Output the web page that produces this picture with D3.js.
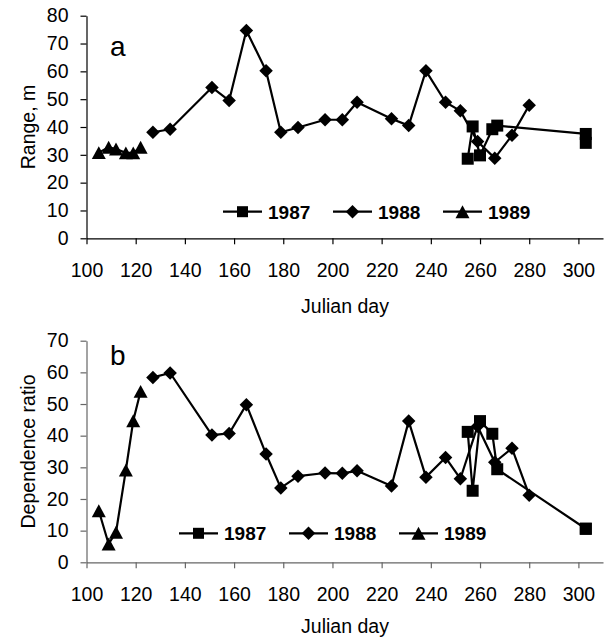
<!DOCTYPE html>
<html>
<head>
<meta charset="utf-8">
<script src="https://cdn.jsdelivr.net/npm/d3@7"></script>
<style>
  html, body { margin: 0; padding: 0; background: #fff; }
  svg { display: block; }
  text { font-family: "Liberation Sans", Arial, sans-serif; fill: #000; }
</style>
</head>
<body>
<script>
// ---------------- DATA ----------------
const xTicks = [100, 120, 140, 160, 180, 200, 220, 240, 260, 280, 300];
const yTicksA = [0, 10, 20, 30, 40, 50, 60, 70, 80];
const yTicksB = [0, 10, 20, 30, 40, 50, 60, 70];
const seriesNames = ["1987", "1988", "1989"];

const days1987 = [255, 257, 260, 265, 267, 303, 303];
const range1987 = [28.6, 40.2, 29.8, 39.2, 40.5, 37.5, 34.3];
const ratio1987 = [41.2, 22.6, 44.6, 40.6, 29.4, 10.6, 10.6];

const days1988 = [127, 134, 151, 158, 165, 173, 179, 186, 197, 204, 210, 224, 231, 238, 246, 252, 259, 266, 273, 280];
const range1988 = [38.1, 39.2, 54.2, 49.5, 74.7, 60.2, 38.1, 39.8, 42.6, 42.6, 48.9, 43.0, 40.5, 60.2, 48.9, 45.8, 34.8, 28.8, 37.0, 47.8];
const ratio1988 = [58.4, 59.8, 40.2, 40.7, 49.8, 34.2, 23.5, 27.2, 28.2, 28.1, 28.9, 24.1, 44.6, 26.9, 33.1, 26.4, 43.0, 31.6, 36.0, 21.2];

const days1989 = [105, 109, 112, 116, 119, 122];
const range1989 = [30.8, 32.7, 32.1, 30.7, 30.7, 32.7];
const ratio1989 = [16.3, 5.8, 9.5, 29.1, 44.7, 54.0];

// ---------------- DRAW ----------------
const W = 607, H = 639;
const svg = d3.select("body").append("svg").attr("width", W).attr("height", H);

const markerPath = {
  square: s => `M${-s/2},${-s/2}h${s}v${s}h${-s}Z`,
  diamond: s => `M0,${-s/2}L${s/2},0L0,${s/2}L${-s/2},0Z`,
  triangle: s => `M0,${-s*0.46}L${s/2},${s*0.46}L${-s/2},${s*0.46}Z`
};
const markerSize = { square: 12, diamond: 13.5, triangle: 14 };
const markerOf = ["square", "diamond", "triangle"];

function panel(cfg) {
  const x = d3.scaleLinear().domain([100, 310]).range([86.5, 603]);
  const y = d3.scaleLinear().domain([0, cfg.yMax]).range([cfg.y0, cfg.yTop]);
  const g = svg.append("g");

  // x axis
  const xa = g.append("g").attr("transform", `translate(0,${cfg.y0})`)
    .call(d3.axisBottom(x).tickValues(xTicks).tickSize(6).tickSizeOuter(0).tickPadding(19));
  // y axis
  const ya = g.append("g").attr("transform", `translate(${x(100)},0)`)
    .call(d3.axisLeft(y).tickValues(cfg.yTicks).tickSize(6).tickSizeOuter(0).tickPadding(12));
  [xa, ya].forEach(a => {
    a.select(".domain").attr("stroke", cfg.axisColor).attr("stroke-width", 1.2);
    a.selectAll(".tick line").attr("stroke", cfg.axisColor).attr("stroke-width", 1.2);
    a.selectAll("text").attr("font-size", 19.5).attr("font-family", "Liberation Sans, Arial, sans-serif").attr("fill", "#000");
  });

  // titles
  g.append("text").attr("x", 345).attr("y", cfg.xTitleY).attr("text-anchor", "middle")
    .attr("font-size", 19.5).text("Julian day");
  g.append("text").attr("transform", `translate(35,${(cfg.y0 + cfg.yTop) / 2}) rotate(-90)`)
    .attr("text-anchor", "middle").attr("font-size", 19.5).text(cfg.yTitle);
  g.append("text").attr("x", cfg.letterX).attr("y", cfg.letterY).attr("font-size", 28).text(cfg.letter);

  // series
  const line = d3.line().x(d => x(d[0])).y(d => y(d[1]));
  cfg.series.forEach((s, i) => {
    const pts = s.days.map((d, k) => [d, s.vals[k]]);
    g.append("path").datum(pts).attr("d", line).attr("fill", "none")
      .attr("stroke", "#000").attr("stroke-width", 2.2).attr("stroke-linejoin", "round");
    const m = markerOf[i];
    g.selectAll(null).data(pts).enter().append("path")
      .attr("transform", d => `translate(${x(d[0])},${y(d[1])})`)
      .attr("d", markerPath[m](markerSize[m])).attr("fill", "#000");
  });

  // legend
  seriesNames.forEach((name, i) => {
    const lx = cfg.legendX + i * 110, ly = cfg.legendY;
    g.append("line").attr("x1", lx).attr("x2", lx + 39).attr("y1", ly).attr("y2", ly)
      .attr("stroke", "#000").attr("stroke-width", 2.2);
    const m = markerOf[i];
    g.append("path").attr("transform", `translate(${lx + 19.5},${ly})`)
      .attr("d", markerPath[m](m === "square" ? 11 : markerSize[m])).attr("fill", "#000");
    g.append("text").attr("x", lx + 45).attr("y", ly + 7).attr("font-size", 19)
      .attr("font-weight", "bold").text(name);
  });
}

panel({
  yMax: 80, y0: 238.3, yTop: 15.7, yTicks: yTicksA, axisColor: "#000",
  xTitleY: 313, yTitle: "Range, m", letter: "a", letterX: 110, letterY: 56,
  legendX: 223, legendY: 211.7,
  series: [
    { days: days1987, vals: range1987 },
    { days: days1988, vals: range1988 },
    { days: days1989, vals: range1989 }
  ]
});

panel({
  yMax: 70, y0: 562.3, yTop: 340.7, yTicks: yTicksB, axisColor: "#666",
  xTitleY: 633, yTitle: "Dependence ratio", letter: "b", letterX: 110, letterY: 365,
  legendX: 179, legendY: 533.3,
  series: [
    { days: days1987, vals: ratio1987 },
    { days: days1988, vals: ratio1988 },
    { days: days1989, vals: ratio1989 }
  ]
});
</script>
</body>
</html>
